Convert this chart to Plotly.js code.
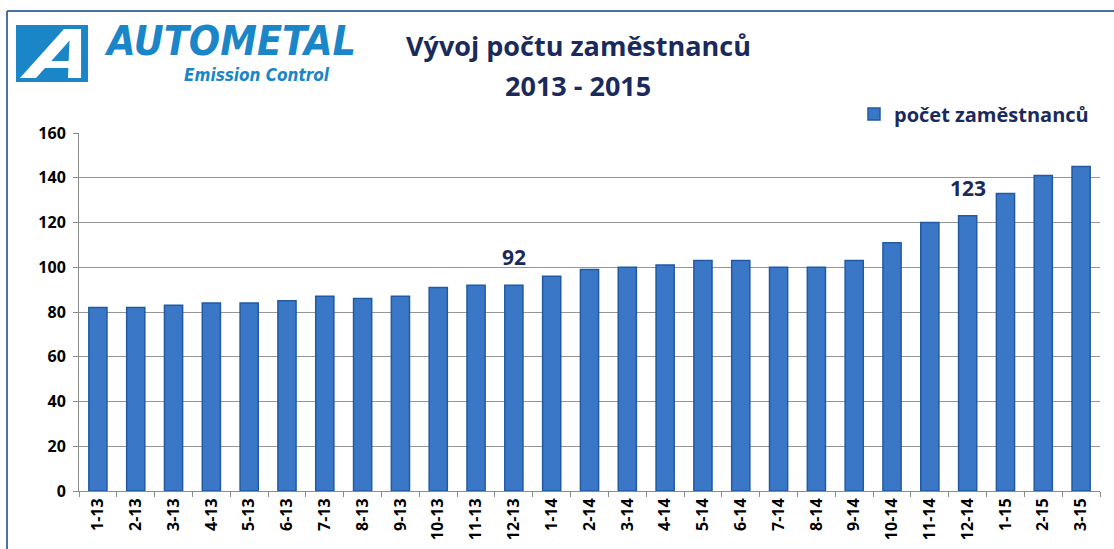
<!DOCTYPE html>
<html>
<head>
<meta charset="utf-8">
<script src="https://cdn.plot.ly/plotly-3.0.1.min.js"></script>
<style>
html,body{margin:0;padding:0;background:#fff;}
#chart{width:1114px;height:549px;}
</style>
</head>
<body>
<div id="chart"></div>
<script>
const months = ["1-13","2-13","3-13","4-13","5-13","6-13","7-13","8-13","9-13","10-13","11-13","12-13",
  "1-14","2-14","3-14","4-14","5-14","6-14","7-14","8-14","9-14","10-14","11-14","12-14",
  "1-15","2-15","3-15"];
const employees = [82,82,83,84,84,85,87,86,87,91,92,92,
  96,99,100,101,103,103,100,100,103,111,120,123,
  133,141,145];
const labelledMonths = ["12-13","12-14"];
const seriesName = "počet zaměstnanců";
const titleLine1 = "Vývoj počtu zaměstnanců";
const titleLine2 = "2013 - 2015";
const yTicks = [0,20,40,60,80,100,120,140,160];

const W = 1114, H = 549;
const M = {l:79, r:14, t:133, b:58};
const pw = W - M.l - M.r, ph = H - M.t - M.b;
const px = x => (x - M.l) / pw;
const py = y => (H - M.b - y) / ph;
function path(pts){
  return 'M' + pts.map(p => px(p[0]).toFixed(4) + ',' + py(p[1]).toFixed(4)).join(' L') + ' Z';
}

const navy = '#1b2a5c';
const logoBlue = '#1a86c8';
const logoFont = 'DejaVu Sans Condensed, Liberation Sans Narrow, sans-serif';

const shapes = [
  {type:'line', xref:'paper', yref:'paper', x0:px(7), x1:px(1114), y0:py(11), y1:py(11), line:{color:'#4a6fa8', width:2}},
  {type:'line', xref:'paper', yref:'paper', x0:px(7), x1:px(7), y0:py(11), y1:py(549), line:{color:'#4a6fa8', width:2}},
  {type:'path', xref:'paper', yref:'paper', path:path([[16,25],[88,25],[88,82],[16,82]]), fillcolor:logoBlue, line:{width:0}},
  {type:'path', xref:'paper', yref:'paper', path:path([[20,78],[36,78],[80,29],[64,29]]), fillcolor:'#ffffff', line:{width:0}},
  {type:'path', xref:'paper', yref:'paper', path:path([[70,29],[81,29],[81,78],[68,78]]), fillcolor:'#ffffff', line:{width:0}},
  {type:'path', xref:'paper', yref:'paper', path:path([[46,61],[69,61],[69,68],[40,68]]), fillcolor:'#ffffff', line:{width:0}}
];

const annotations = [
  {xref:'paper', yref:'paper', x:px(102), y:py(41), xanchor:'left', yanchor:'middle', showarrow:false,
   text:'<b><i>AUTOMETAL</i></b>', font:{family:logoFont, size:41, color:logoBlue}},
  {xref:'paper', yref:'paper', x:px(332), y:py(75), xanchor:'right', yanchor:'middle', showarrow:false,
   text:'<b><i>Emission Control</i></b>', font:{family:logoFont, size:17, color:logoBlue}},
  {xref:'paper', yref:'paper', x:px(578), y:py(45), xanchor:'center', yanchor:'middle', showarrow:false,
   text:'<b>' + titleLine1 + '</b>', font:{family:'Open Sans, sans-serif', size:27, color:navy}},
  {xref:'paper', yref:'paper', x:px(578), y:py(86), xanchor:'center', yanchor:'middle', showarrow:false,
   text:'<b>' + titleLine2 + '</b>', font:{family:'Open Sans, sans-serif', size:27, color:navy}}
];
labelledMonths.forEach(m => {
  const i = months.indexOf(m);
  annotations.push({x:m, y:employees[i], xref:'x', yref:'y', yanchor:'middle', yshift:28, showarrow:false,
    text:'<b>' + employees[i] + '</b>', font:{family:'Open Sans, sans-serif', size:21, color:navy}});
});

const trace = {
  type:'bar', x:months, y:employees, name:seriesName,
  marker:{color:'#3a78c7', line:{color:'#215aa3', width:1.5}},
  hoverinfo:'x+y'
};

const layout = {
  width:W, height:H,
  margin:M,
  paper_bgcolor:'#ffffff', plot_bgcolor:'#ffffff',
  bargap:0.52,
  showlegend:true,
  legend:{x:px(1094), xanchor:'right', y:py(114), yanchor:'middle', bgcolor:'rgba(0,0,0,0)',
    font:{family:'Open Sans, sans-serif', size:20, color:navy, weight:'bold'}, itemwidth:30},
  xaxis:{type:'category', tickangle:-90, showgrid:false, showline:true, linecolor:'#8c8c8c', linewidth:1,
    ticks:'outside', ticklen:5, tickcolor:'#8c8c8c', tickson:'boundaries',
    tickfont:{family:'Open Sans, sans-serif', size:16, color:'#000', weight:'bold'}, zeroline:false},
  yaxis:{range:[0,160], tickvals:yTicks, showgrid:true, gridcolor:'#969696', gridwidth:1,
    showline:true, linecolor:'#8c8c8c', ticks:'outside', ticklen:5, tickcolor:'#8c8c8c',
    tickfont:{family:'Open Sans, sans-serif', size:16, color:'#000', weight:'bold'}, zeroline:false, ticklabelstandoff:4},
  shapes:shapes,
  annotations:annotations
};

Plotly.newPlot('chart', [trace], layout, {displayModeBar:false, staticPlot:true});
</script>
</body>
</html>
